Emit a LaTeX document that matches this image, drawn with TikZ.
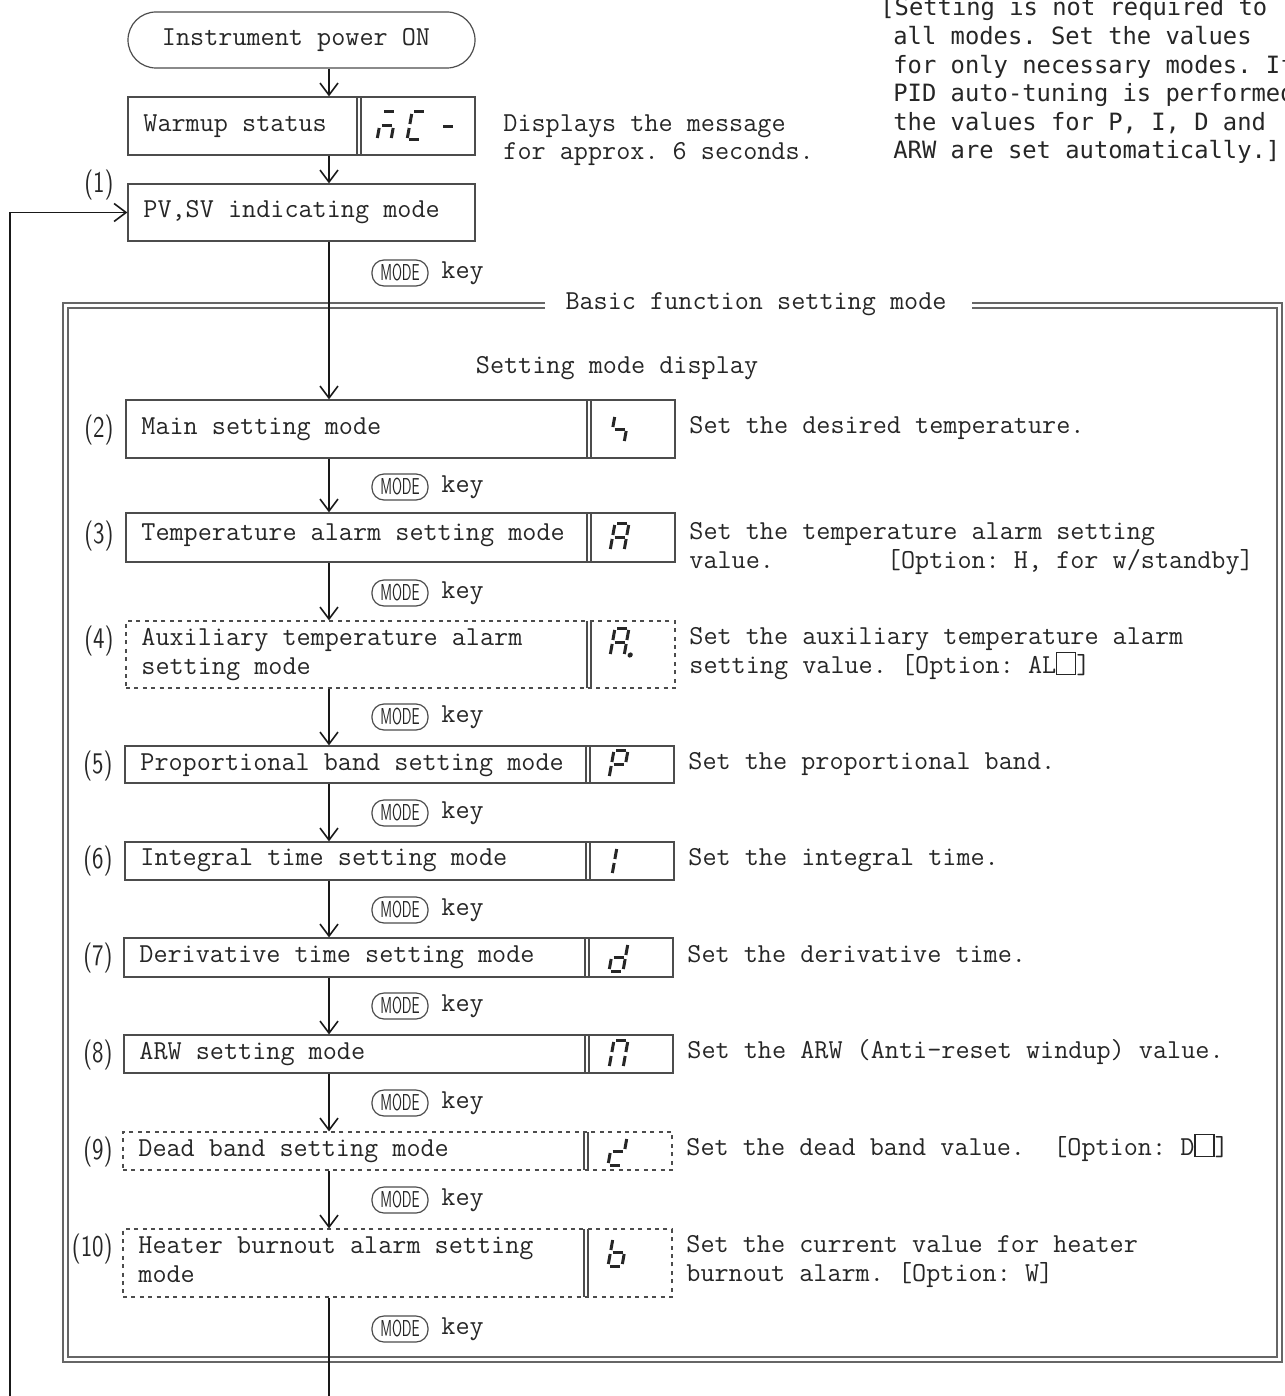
\documentclass[tikz,border=0pt]{standalone}
\usepackage{fontspec}
\usepackage{graphicx}
\usetikzlibrary{arrows.meta,fit}
\newfontfamily\notefont{DejaVu Sans Mono}
\newcommand\mt{\fontsize{13.7}{14.3}\selectfont\ttfamily\frenchspacing}
\newcommand\nt{\fontsize{11.9}{14.3}\selectfont\notefont\frenchspacing}
\newcommand\lbl[1]{\scalebox{0.78}[1]{\fontsize{15}{16}\selectfont\sffamily #1}}
\newcommand\segA{\draw[seg] (2,28)--(12,28);}
\newcommand\segB{\draw[seg] (14,26)--(14,16);}
\newcommand\segC{\draw[seg] (14,12)--(14,2);}
\newcommand\segD{\draw[seg] (2,0)--(12,0);}
\newcommand\segE{\draw[seg] (0,2)--(0,12);}
\newcommand\segF{\draw[seg] (0,16)--(0,26);}
\newcommand\segG{\draw[seg] (2,14)--(12,14);}
\newcommand\segP{\fill[black!85] (20,1) circle (2.6);}
\newcommand\sseg[3]{\begin{scope}[shift={(#1,#2)},xslant=0.18,yscale=-1]
  \foreach \s in {#3}{\csname seg\s\endcsname}\end{scope}}
\tikzset{
  box/.style={draw=black!70, line width=0.6pt, inner sep=0pt},
  dbox/.style={draw=black!70, line width=0.6pt, inner sep=0pt, dash pattern=on 2pt off 2.2pt},
  sepl/.style={draw=black!70, line width=0.6pt},
  flow/.style={draw=black!90, line width=0.9pt, -{Straight Barb[length=6pt,width=9pt,line width=0.8pt]}},
  plain/.style={draw=black!90, line width=0.9pt},
  seg/.style={line width=1.5pt, black!85},
  txt/.style={anchor=west, inner sep=0pt, font=\mt, text=black!85, text height=8.4pt, text depth=2.6pt},
  ntxt/.style={anchor=west, inner sep=0pt, font=\nt, text=black!85, text height=8.6pt, text depth=2.6pt},
  lab/.style={anchor=east, inner sep=0pt, text=black!85},
  modek/.style={draw=black!70, line width=0.6pt, rounded corners=6pt, minimum width=28pt, minimum height=13pt, inner sep=0pt, text=black!85},
  frame/.style={draw=black!60, line width=0.6pt},
}
\newcommand\modekey[2]{\node[modek] (#1) at (400,#2) {\scalebox{0.6}[1]{\fontsize{11.5}{12}\selectfont\sffamily MODE}};
  \node[txt] (#1k) at (441,#2) {key};}
\newcommand\optbox{\raisebox{-0.5pt}{\tikz\draw[black!85,line width=0.6pt] (0,0) rectangle (9.5pt,11pt);}}
\begin{document}
\begin{tikzpicture}[x=0.5pt,y=-0.5pt]
\useasboundingbox (0,0) rectangle (1284,1396);
\clip (0,0) rectangle (1284,1396);
\coordinate (ax) at (329,0);

% ---------- top part ----------
\node[box, rounded corners=14pt, fit={(128,12) (475,68)}] (on) {};
\node[txt, anchor=center] (ont) at (296,40) {Instrument power ON};
\node[box, fit={(128,97) (475,155)}] (warm) {};
\draw[sepl] (357,97) -- (357,155) (361,97) -- (361,155);
\node[txt] (wt) at (143,126) {Warmup status};
\sseg{377}{140}{A,G,E,C}
\sseg{407}{140}{A,F,E,D}
\draw[seg] (443,127) -- (453,127);
\node[txt] (d1) at (503,126) {Displays the message};
\node[txt] (d2) at (503,154) {for approx. 6 seconds.};
\node[box, fit={(128,184) (475,241)}] (pv) {};
\node[txt] (pvt) at (143,212) {PV,SV indicating mode};
\node[lab] (l1) at (114,185) {\lbl{(1)}};

% note
\node[ntxt] (n1) at (880,10) {[Setting is not required to};
\node[ntxt] (n2) at (893,38.6) {all modes. Set the values};
\node[ntxt] (n3) at (893,67.2) {for only necessary modes. If};
\node[ntxt] (n4) at (893,95.8) {PID auto-tuning is performed};
\node[ntxt] (n5) at (893,124.4) {the values for P, I, D and};
\node[ntxt] (n6) at (893,153) {ARW are set automatically.]};

\draw[flow] (on.south -| ax) -- (warm.north -| ax);
\draw[flow] (warm.south -| ax) -- (pv.north -| ax);

% ---------- frame ----------
\draw[frame] (545,303) -- (63,303) -- (63,1362) -- (1282,1362) -- (1282,303) -- (972,303);
\draw[frame] (545,308) -- (68,308) -- (68,1357) -- (1277,1357) -- (1277,308) -- (972,308);
\node[font=\mt, text=black!85, inner sep=0pt] (title) at (756,304) {Basic function setting mode};
\node[font=\mt, text=black!85, inner sep=0pt] (smd) at (617,368) {Setting mode display};

% ---------- rows ----------
% (2)
\node[box, fit={(126,400) (675,458)}] (b2) {};
\draw[sepl] (587,400) -- (587,458) (591,400) -- (591,458);
\node[lab] (l2) at (114,430) {\lbl{(2)}};
\node[txt] (t2) at (141,429) {Main setting mode};
\sseg{610}{443}{F,G,C}
\node[txt] (s2) at (689,428) {Set the desired temperature.};
% (3)
\node[box, fit={(126,513) (675,562)}] (b3) {};
\draw[sepl] (587,513) -- (587,562) (591,513) -- (591,562);
\node[lab] (l3) at (114,536) {\lbl{(3)}};
\node[txt] (t3) at (141,535) {Temperature alarm setting mode};
\sseg{610}{551}{A,B,C,E,F,G}
\node[txt] (s3a) at (689,534) {Set the temperature alarm setting};
\node[txt] (s3b) at (689,563) {value.\ \ \ \ \ \ \ \ [Option: H, for w/standby]};
% (4)
\node[dbox, fit={(126,621) (675,688)}] (b4) {};
\draw[sepl] (587,621) -- (587,688) (591,621) -- (591,688);
\node[lab] (l4) at (114,641) {\lbl{(4)}};
\node[txt] (t4a) at (141,640) {Auxiliary temperature alarm};
\node[txt] (t4b) at (141,669) {setting mode};
\sseg{610}{656}{A,B,C,E,F,G,P}
\node[txt] (s4a) at (689,639) {Set the auxiliary temperature alarm};
\node[txt] (s4b) at (689,668) {setting value. [Option: AL\optbox]};
% (5)
\node[box, fit={(125,746) (674,783)}] (b5) {};
\draw[sepl] (586,746) -- (586,783) (590,746) -- (590,783);
\node[lab] (l5) at (113,766) {\lbl{(5)}};
\node[txt] (t5) at (140,765) {Proportional band setting mode};
\sseg{609}{778}{A,B,E,F,G}
\node[txt] (s5) at (688,764) {Set the proportional band.};
% (6)
\node[box, fit={(125,842) (674,880)}] (b6) {};
\draw[sepl] (586,842) -- (586,880) (590,842) -- (590,880);
\node[lab] (l6) at (113,861) {\lbl{(6)}};
\node[txt] (t6) at (140,860) {Integral time setting mode};
\sseg{612}{875}{E,F}
\node[txt] (s6) at (688,860) {Set the integral time.};
% (7)
\node[box, fit={(124,938) (673,977)}] (b7) {};
\draw[sepl] (585,938) -- (585,977) (589,938) -- (589,977);
\node[lab] (l7) at (113,958) {\lbl{(7)}};
\node[txt] (t7) at (139,957) {Derivative time setting mode};
\sseg{609}{971}{B,C,D,E,G}
\node[txt] (s7) at (687,957) {Set the derivative time.};
% (8)
\node[box, fit={(124,1035) (673,1073)}] (b8) {};
\draw[sepl] (585,1035) -- (585,1073) (589,1035) -- (589,1073);
\node[lab] (l8) at (113,1055) {\lbl{(8)}};
\node[txt] (t8) at (139,1054) {ARW setting mode};
\sseg{609}{1068}{A,B,C,E,F}
\node[txt] (s8) at (687,1053) {Set the ARW (Anti-reset windup) value.};
% (9)
\node[dbox, fit={(123,1132) (672,1170)}] (b9) {};
\draw[sepl] (584,1132) -- (584,1170) (588,1132) -- (588,1170);
\node[lab] (l9) at (113,1152) {\lbl{(9)}};
\node[txt] (t9) at (138,1151) {Dead band setting mode};
\sseg{608}{1165}{B,D,E,G}
\node[txt] (s9) at (686,1150) {Set the dead band value.\ \ [Option: D\optbox]};
% (10)
\node[dbox, fit={(123,1229) (672,1297)}] (b10) {};
\draw[sepl] (584,1229) -- (584,1297) (588,1229) -- (588,1297);
\node[lab] (l10) at (113,1249) {\lbl{(10)}};
\node[txt] (t10a) at (138,1248) {Heater burnout alarm setting};
\node[txt] (t10b) at (138,1277) {mode};
\sseg{608}{1266}{F,E,D,C,G}
\node[txt] (s10a) at (686,1247) {Set the current value for heater};
\node[txt] (s10b) at (686,1276) {burnout alarm. [Option: W]};

% ---------- MODE keys ----------
\modekey{m1}{273}
\modekey{m2}{487}
\modekey{m3}{593}
\modekey{m4}{717}
\modekey{m5}{813}
\modekey{m6}{910}
\modekey{m7}{1006}
\modekey{m8}{1103}
\modekey{m9}{1200}
\modekey{m10}{1329}

% ---------- connectors ----------
\draw[flow] (pv.south -| ax) -- (b2.north -| ax);
\draw[flow] (b2.south -| ax) -- (b3.north -| ax);
\draw[flow] (b3.south -| ax) -- (b4.north -| ax);
\draw[flow] (b4.south -| ax) -- (b5.north -| ax);
\draw[flow] (b5.south -| ax) -- (b6.north -| ax);
\draw[flow] (b6.south -| ax) -- (b7.north -| ax);
\draw[flow] (b7.south -| ax) -- (b8.north -| ax);
\draw[flow] (b8.south -| ax) -- (b9.north -| ax);
\draw[flow] (b9.south -| ax) -- (b10.north -| ax);
\coordinate (bot) at (329,1396);
\coordinate (lb) at (10,1396);
\draw[plain] (b10.south -| ax) -- (bot);
\draw[flow] (lb) |- (pv.west);
\end{tikzpicture}
\end{document}
